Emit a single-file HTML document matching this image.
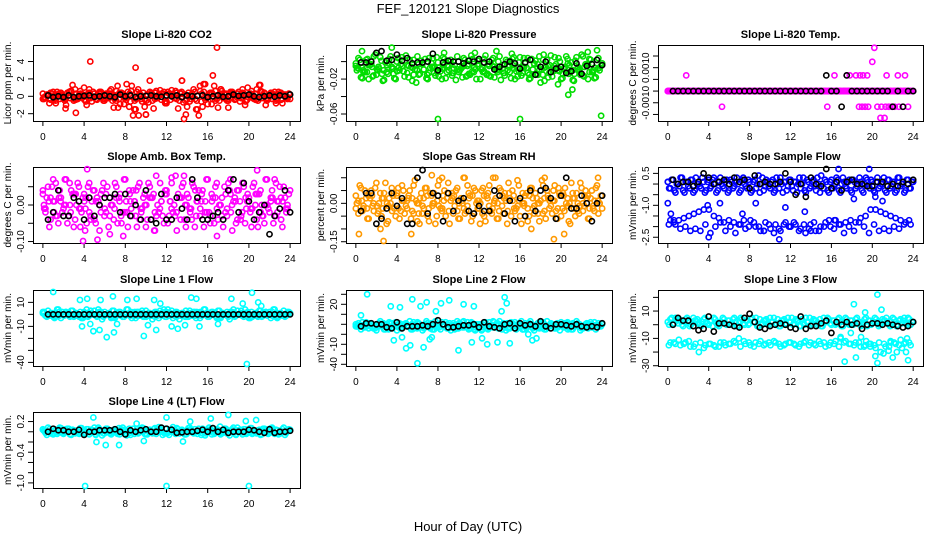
<!DOCTYPE html>
<html><head><meta charset="utf-8"><title>FEF_120121 Slope Diagnostics</title>
<style>
html,body{margin:0;padding:0;background:#fff;}
svg{display:block;font-family:"Liberation Sans",Arial,sans-serif;}
</style></head>
<body>
<svg id="chart" width="936" height="540" viewBox="0 0 936 540">
<text x="468" y="13" text-anchor="middle" font-size="13">FEF_120121  Slope Diagnostics</text>
<text x="468" y="531" text-anchor="middle" font-size="13">Hour of Day (UTC)</text>
</svg>
<script>
// ---------- data ----------
const xTicks = [0,4,8,12,16,20,24];
const titles = ["Slope Li-820 CO2","Slope Li-820 Pressure","Slope Li-820 Temp.","Slope Amb. Box Temp.","Slope Gas Stream RH","Slope Sample Flow","Slope Line 1 Flow","Slope Line 2 Flow","Slope Line 3 Flow","Slope Line 4 (LT) Flow"];
const yTitles = ["Licor ppm per min.","kPa per min.","degrees C per min.","degrees C per min.","percent per min.","mVmin per min.","mVmin per min.","mVmin per min.","mVmin per min.","mVmin per min."];
const colors = ["#ff0000","#00dd00","#ff00ff","#ff00ff","#ff9900","#0000ff","#00ffff","#00ffff","#00ffff","#00ffff"];
const yLims = [[-2.84,5.9],[-0.068,0.019],[-0.00128,0.00197],[-0.104,0.104],[-0.155,0.142],[-2.77,0.80],[-43,20.3],[-41.7,34.3],[-30.2,25.4],[-1.10,0.387]];
const yTickVals = [[-2,0,2,4],[-0.06,-0.04,-0.02,0],[-0.001,-0.0005,0,0.0005,0.001,0.0015],[-0.1,-0.05,0,0.05],[-0.15,-0.1,-0.05,0,0.05,0.1],[-2.5,-2,-1.5,-1,-0.5,0,0.5],[-40,-30,-20,-10,0,10],[-40,-30,-20,-10,0,10,20,30],[-30,-20,-10,0,10,20],[-1.0,-0.8,-0.6,-0.4,-0.2,0,0.2]];
const yTickLabels = [["-2","0","2","4"],["-0.06","","-0.02",""],["","-0.0010","","","0.0010",""],["-0.10","","0.00",""],["-0.15","","","0.00","",""],["-2.5","","","-1.0","","","0.5"],["-40","","","-10","","10"],["-40","","-10","","","","20",""],["-30","","-10","","10",""],["-1.0","","","-0.4","","","0.2"]];

const mainVals = [
[0.3,-0.2,0.1,-0.4,0.5,-0.8,0.2,0.4,-0.3,-1.0,0.1,0.6,-0.5,0.3,-0.2,0.2,1.0,-1.0,0.8,-0.6,0.3,-0.4,0.5,0.1,-0.3,0.2,0.6,-0.5,0.1,1.2,-0.9,0.3,-0.2,0.5,-0.6,-2.2,-1.5,0.8,-0.3,0.4,-2.1,-0.7,0.3,-1.4,0.6,0.2,-0.4,0.5,-0.8,0.3,0.7,-0.2,0.4,-0.5,1.8,0.2,-1.2,-0.6,0.3,0.5,-1.5,1.2,-1.2,1.4,-0.9,0.4,-0.3,0.6,-1.3,0.8,-0.2,0.3,-0.5,0.4,0.1,-0.3,0.5,-0.2,0.3,-0.4,0.2,0.6,-0.3,0.8,1.3,-0.2,0.4,-0.5,0.2,-0.3,0.5,-0.2,0.3,-0.8,0.2,-0.1,-0.3],
[-0.005,0.004,-0.018,-0.010,0.002,-0.020,-0.003,0.006,-0.015,-0.008,0.001,-0.021,-0.012,0.003,-0.006,-0.019,0.000,-0.010,0.005,-0.017,-0.004,0.002,-0.022,-0.009,0.006,-0.014,-0.002,0.003,-0.020,-0.007,0.004,-0.016,-0.001,-0.011,0.005,-0.019,-0.006,0.002,-0.013,-0.021,0.000,-0.008,0.004,-0.017,-0.003,0.007,-0.012,-0.020,0.001,-0.009,0.003,-0.015,-0.005,0.002,-0.018,-0.010,0.006,-0.004,-0.016,0.000,-0.012,0.003,-0.020,-0.007,0.005,-0.013,-0.002,0.004,-0.019,-0.009,0.001,-0.015,-0.024,0.002,-0.006,-0.018,0.007,-0.011,-0.003,0.004,-0.020,-0.008,0.006,-0.014,-0.001,-0.022,0.005,-0.010,0.008,-0.017,-0.004,0.003,-0.012,-0.019,0.002,-0.007,-0.002],
[0,0,0,0,0,0,0,0,0,0,0,0,0,0,0,0,0,0,0,0,0,0,0,0,0,0,0,0,0,0,0,0,0,0,0,0,0,0,0,0,0,0,0,0,0,0,0,0,0,0,0,0,0,0,0,0,0,0,0,0,0,0,0,0,0,0,0,0,0,0,0,0,0,0,0,0,0,0,0,0,0,0,0,0,0,0,0,0,0,0,0,0,0,0,0,0,0],
[0.03,-0.02,0.05,-0.04,0.01,0.06,-0.05,0.02,-0.01,0.07,-0.03,0.04,-0.06,0.00,0.05,-0.02,0.03,-0.05,0.06,0.01,-0.04,0.02,-0.07,0.04,-0.01,0.05,-0.03,0.00,0.06,-0.05,0.03,-0.02,0.07,-0.06,0.01,0.04,-0.03,0.05,-0.01,0.02,-0.06,0.06,-0.04,0.03,0.08,-0.02,0.01,-0.05,0.04,-0.03,0.06,0.00,-0.07,0.02,0.05,-0.04,0.03,-0.01,0.06,-0.06,0.01,-0.03,0.04,-0.02,0.07,-0.05,0.02,0.05,-0.04,0.00,-0.06,0.03,0.06,-0.02,0.01,-0.05,0.04,-0.03,0.05,-0.01,0.02,-0.06,0.06,-0.04,0.03,0.00,-0.05,0.07,-0.02,0.04,-0.03,0.01,0.05,-0.06,0.02,-0.01,0.04],
[0.03,-0.04,0.06,-0.01,0.02,-0.06,0.05,-0.03,0.08,0.00,-0.05,0.04,-0.08,0.02,0.06,-0.02,0.03,-0.06,0.07,-0.04,0.01,0.05,-0.03,0.09,-0.07,0.02,-0.01,0.06,-0.05,0.04,0.00,-0.08,0.07,-0.02,0.03,-0.05,0.08,0.01,-0.04,0.05,-0.06,0.02,0.10,-0.03,0.04,-0.07,0.06,0.00,-0.02,0.05,-0.05,0.03,0.07,-0.04,0.01,-0.06,0.06,-0.01,0.04,-0.08,0.02,0.05,-0.03,0.09,-0.05,0.00,0.03,-0.07,0.06,-0.02,0.04,-0.04,0.01,0.07,-0.06,0.02,-0.01,0.05,-0.03,0.06,-0.05,0.03,0.00,-0.07,0.08,-0.02,0.04,-0.04,0.06,-0.01,0.02,-0.06,0.05,-0.03,0.07,0.00,-0.02],
[0.1,-0.2,0.2,-0.4,0.0,0.3,-0.3,0.1,-0.1,0.2,-0.4,0.3,0.0,-0.2,0.1,-0.3,0.2,-0.1,0.3,-0.4,0.1,0.0,-0.2,0.2,-0.3,0.1,-0.1,0.3,-0.4,0.2,0.0,-0.2,0.1,-0.3,0.2,0.0,-0.4,0.3,-0.1,0.1,-0.2,0.2,-0.3,0.0,0.3,-0.4,0.1,-0.1,0.2,-0.3,0.1,0.0,-0.2,0.3,-0.4,0.1,-0.1,0.2,-0.3,0.0,0.4,-0.2,0.1,-0.4,0.2,-0.1,0.3,-0.3,0.0,0.1,-0.2,0.2,-0.4,0.1,-0.1,0.3,-0.3,0.0,0.2,-0.2,0.1,-0.4,0.3,-0.1,0.0,-0.3,0.2,-0.2,0.1,-0.4,0.3,-0.1,0.0,-0.3,0.2,-0.2,0.1],
[2,-1,3,0,-2,1,4,-3,0,2,-1,3,-2,1,0,-3,2,4,-1,0,3,-2,1,-4,2,0,-1,3,-3,1,2,-2,0,4,-1,1,-3,2,0,-2,3,1,-1,0,2,-3,1,4,-2,0,3,-1,2,-4,1,0,-2,3,-1,2,0,-3,1,4,-2,0,2,-1,3,-3,1,0,-2,2,4,-1,0,3,-2,1,-3,2,0,-1,3,-2,1,0,2,-1,4,-3,1,0,-2,2,1],
[-2,1,-5,-1,2,-4,0,-3,-6,1,-2,-5,0,2,-3,-1,-6,1,-4,0,-2,3,-5,-1,2,-3,-6,0,1,-4,-2,3,-1,-5,0,2,-3,-6,1,-2,-4,0,3,-1,-5,2,-3,0,-2,-6,1,-4,2,-1,-3,0,3,-5,-2,1,-4,-1,2,-3,0,-5,1,-2,3,-4,-1,0,-3,2,-5,-2,1,-1,-4,0,2,-3,1,-2,-5,0,3,-1,-4,-2,1,0,-3,2,-1,-2,0],
[2,4,0,5,1,3,-1,4,2,0,5,3,1,-1,4,2,0,3,5,1,-1,2,4,0,3,1,5,-1,2,4,0,3,1,5,2,-1,4,0,3,1,5,2,0,4,-1,3,1,5,2,0,4,3,-1,1,5,2,0,4,3,1,-1,5,2,4,0,3,1,5,-1,2,4,0,3,1,5,2,0,4,-1,3,1,5,2,0,4,3,1,-1,5,2,0,4,3,1,5,0,2],
[0.05,-0.02,0.08,0.01,-0.05,0.04,-0.01,0.07,-0.04,0.02,0.06,-0.06,0.03,0.00,-0.03,0.07,-0.02,0.05,-0.05,0.01,0.08,-0.01,0.04,-0.07,0.02,0.06,-0.03,0.00,0.05,-0.04,0.03,0.08,-0.02,0.01,-0.06,0.06,0.00,-0.03,0.04,0.07,-0.05,0.02,-0.01,0.05,-0.04,0.09,0.01,-0.02,0.06,-0.06,0.03,0.00,0.07,-0.03,0.04,-0.05,0.02,0.08,-0.01,0.05,-0.04,0.01,0.06,-0.07,0.03,0.00,0.07,-0.02,0.04,-0.05,0.02,0.06,-0.03,0.01,0.08,-0.06,0.03,-0.01,0.05,-0.04,0.02,0.07,0.00,-0.03,0.04,-0.05,0.06,0.01,-0.02,0.08,-0.04,0.03,0.00,0.05,-0.06,0.02,0.04]
];
const bandVals = [
[-0.2,0.4,-0.5,0.2,-0.3,0.6,-0.4,0.3,-0.6,0.1,-0.3,0.5,-0.2,0.3,-0.5,0.2,-0.4,0.6,-0.3,0.1,-0.5,0.4,-0.2,0.3,-0.6,0.2,-0.3,0.5,-0.4,0.1,-0.5,0.3,-0.2,0.4,-0.3,0.2,-0.5,0.3,-0.1,0.4,-0.4,0.2,-0.3,0.5,-0.2,0.3,-0.4,0.2,-0.3],
[-0.008,-0.012,-0.004,-0.016,-0.006,-0.010,-0.002,-0.014,-0.007,-0.011,-0.005,-0.015,-0.003,-0.009,-0.013,-0.006,-0.017,-0.004,-0.010,-0.008,-0.012,-0.005,-0.014,-0.007,-0.003,-0.011,-0.016,-0.006,-0.009,-0.013,-0.004,-0.008,-0.012,-0.006,-0.015,-0.003,-0.010,-0.007,-0.013,-0.005,-0.011,-0.008,-0.004,-0.014,-0.009,-0.006,-0.012,-0.007,-0.010],
[0,0,0,0,0,0,0,0,0,0,0,0,0,0,0,0,0,0,0,0,0,0,0,0,0,0,0,0,0,0,0,0,0,0,0,0,0,0,0,0,0,0,0,0,0,0,0,0,0],
[-0.01,0.02,-0.03,0.01,0.00,-0.02,0.03,-0.01,0.02,-0.04,0.01,0.03,-0.02,0.00,0.02,-0.03,0.01,-0.01,0.04,-0.02,0.00,0.02,-0.03,0.01,0.03,-0.01,-0.02,0.02,0.00,-0.04,0.01,0.03,-0.02,0.01,-0.01,0.02,-0.03,0.00,0.04,-0.02,0.01,-0.01,0.03,-0.03,0.00,0.02,-0.02,0.01,0.00],
[0.01,-0.02,0.03,0.00,-0.03,0.02,-0.01,0.04,-0.02,0.01,0.03,-0.04,0.00,0.02,-0.02,0.04,-0.01,0.01,-0.03,0.03,0.00,-0.02,0.02,-0.04,0.01,0.03,-0.01,0.00,-0.03,0.02,0.04,-0.02,0.01,-0.01,0.03,-0.04,0.00,0.02,-0.02,0.01,0.04,-0.03,0.00,0.02,-0.01,0.03,-0.02,0.01,0.00],
[-1.7,-1.9,-2.1,-2.0,-2.2,-2.1,-2.2,-1.9,-2.3,-2.0,-1.8,-2.2,-2.0,-2.3,-1.9,-2.1,-1.7,-2.0,-2.2,-1.8,-2.1,-1.9,-2.2,-1.8,-2.0,-1.9,-2.1,-2.3,-1.9,-2.2,-2.0,-1.8,-2.0,-1.7,-1.9,-1.8,-1.7,-1.8,-1.6,-1.5,-1.2,-1.2,-1.3,-1.4,-1.5,-1.6,-1.7,-1.8,-1.9],
[-1,1,-2,0,2,-1,1,-2,0,1,-1,2,0,-2,1,-1,0,2,-1,1,-2,0,1,-1,2,0,-2,1,-1,0,2,-1,1,0,-2,1,-1,2,0,-1,1,-2,0,1,-1,2,0,-1,1],
[-1,-3,0,-4,-2,1,-5,-1,-3,0,-2,-4,1,-3,-1,-5,0,-2,-4,-1,1,-3,-2,-5,0,-1,-3,2,-4,-2,0,-1,-3,-5,1,-2,-4,0,-1,-3,-2,1,-4,-1,0,-3,-2,-1,-2],
[-13,-14,-15,-13,-16,-14,-13,-15,-14,-16,-13,-15,-14,-13,-16,-14,-15,-13,-12,-14,-15,-13,-16,-14,-13,-15,-14,-12,-13,-15,-14,-16,-13,-12,-10,-12,-14,-13,-16,-15,-14,-17,-20,-16,-12,-14,-11,-13,-15],
[0.01,-0.03,0.03,-0.01,0.05,-0.04,0.02,0.00,-0.02,0.04,-0.05,0.01,0.03,-0.02,0.00,0.05,-0.03,0.02,-0.01,0.04,-0.04,0.01,0.03,0.00,-0.03,0.05,-0.01,0.02,-0.04,0.03,0.00,-0.02,0.04,-0.05,0.01,0.02,-0.03,0.05,0.00,-0.01,0.03,-0.04,0.02,0.01,-0.02,0.04,-0.03,0.00,0.02]
];
const outliers = [
[[4.6,4.0],[9.0,3.3],[16.5,2.4],[16.9,5.6],[3.2,-1.9],[13.7,-2.6],[9.3,-2.2],[10.0,-2.1],[13.5,1.8],[15.6,1.4],[21.1,1.3],[7.3,-1.3],[18.0,-1.3],[17.3,0.8],[2.2,-1.4]],
[[0.6,0.012],[3.5,0.016],[8.0,-0.066],[16.0,-0.067],[23.9,-0.062],[20.7,-0.038],[21.1,-0.032],[19.7,-0.026],[13.7,0.012],[11.6,0.010],[23.5,0.013],[8.6,0.010],[15.2,0.009],[18.3,0.008],[22.6,0.011]],
[[1.8,0.00067],[5.3,-0.00067],[15.6,-0.00067],[20.0,0.00125],[20.2,0.00185],[20.8,-0.00115],[21.2,-0.00115],[16.3,0.00067],[17.5,0.00067],[17.8,0.00067],[18.4,0.00067],[18.8,0.00067],[19.1,0.00067],[19.5,0.00067],[21.4,0.00067],[22.5,0.00067],[23.2,0.00067],[18.7,-0.00067],[19.0,-0.00067],[19.3,-0.00067],[19.6,-0.00067],[20.5,-0.00067],[20.9,-0.00067],[21.3,-0.00067],[21.6,-0.00067],[21.9,-0.00067],[22.2,-0.00067],[22.6,-0.00067],[23.0,-0.00067],[23.5,-0.00067],[16.8,0],[17.2,0],[17.6,0]],
[[3.9,-0.1],[4.1,-0.07],[5.3,-0.095],[4.3,0.098],[20.8,0.095],[1.0,0.07],[2.6,0.06],[7.8,-0.085],[13.7,0.08],[16.9,-0.085],[18.2,0.07],[12.5,0.075],[22.5,0.07],[6.5,-0.08],[10.8,-0.07]],
[[0.3,-0.12],[2.7,-0.15],[2.4,-0.1],[5.4,-0.12],[7.4,0.11],[8.4,0.1],[13.6,0.1],[18.4,0.1],[19.3,-0.14],[20.3,-0.12],[23.6,0.1],[12.1,-0.08],[10.6,0.1],[6.2,-0.08],[17.1,-0.1]],
[[0.0,-0.9],[0.3,-1.4],[0.6,-1.7],[3.9,-1.0],[4.0,-2.5],[5.1,-0.9],[8.6,-0.9],[10.9,-2.6],[9.4,-2.2],[11.5,-1.1],[13.4,-1.3],[14.0,-2.2],[16.7,1.2],[16.3,-1.7],[18.2,-0.7],[19.7,0.8],[20.3,-0.6],[21.0,-0.8],[12.0,-2.0],[7.3,-1.4]],
[[1.0,19],[3.6,12],[3.8,-10],[4.3,13],[4.6,-8],[4.9,-14],[5.5,-13],[5.6,12],[6.2,-19],[6.8,15],[6.9,-15],[7.2,-8],[8.2,12],[9.1,13],[9.8,-18],[10.2,-9],[11.0,-13],[11.4,9],[12.5,-10],[13.1,-12],[14.4,14],[14.9,13],[15.2,-10],[17.0,-8],[18.3,13],[19.8,-42],[20.3,18],[20.9,10],[21.2,7],[19.4,9],[10.8,12],[13.8,-9]],
[[1.1,30],[0.5,9],[3.4,18],[3.7,-16],[4.3,17],[4.5,-13],[4.9,-24],[5.3,-21],[5.5,25],[6.0,-39],[6.3,18],[6.6,-23],[6.9,22],[7.2,-15],[7.8,13],[8.3,21],[9.1,24],[10.0,-26],[10.5,20],[11.3,-18],[11.5,18],[12.3,-14],[12.8,-20],[13.8,-18],[14.2,13],[14.5,27],[14.7,21],[15.0,-19],[16.8,-10],[17.2,-16],[17.6,-14],[7.4,-13]],
[[17.3,-27],[18.2,15],[18.4,-24],[19.3,9],[19.8,-16],[20.3,-23],[20.5,-28],[20.5,22],[20.9,11],[21.1,-21],[21.6,-19],[22.0,-24],[22.4,-20],[22.9,-17],[23.3,-20],[23.5,-26],[23.4,-10],[17.9,-6],[18.9,-9],[16.9,-9],[19.4,-12],[21.8,-13]],
[[4.1,-1.1],[12.0,-1.1],[20.0,-1.1],[4.9,0.28],[6.1,-0.26],[7.4,-0.26],[9.1,0.16],[9.8,-0.18],[12.0,0.28],[13.6,-0.19],[14.3,0.2],[16.3,0.26],[18.0,0.33],[19.7,0.21],[20.7,0.23],[5.2,-0.2],[17.2,0.1]]
];
const blackVals = [
[0.1,-0.1,0.0,-0.1,0.1,-0.1,0.0,0.05,0.1,-0.05,0.0,0.1,0.0,-0.1,0.2,0.0,0.1,-0.1,0.0,0.05,0.1,0.0,-0.05,0.1,0.0,0.1,-0.1,0.1,0.0,0.05,0.1,-0.1,0.0,0.1,-0.05,0.0,0.2,0.05,0.1,0.2,0.0,-0.1,0.0,0.1,-0.05,0.1,0.0,0.2],
[-0.001,-0.001,0.0,0.010,0.012,0.001,0.002,0.008,0.001,0.004,-0.002,-0.001,-0.001,0.000,0.009,-0.010,-0.001,0.001,0.000,0.000,-0.002,0.001,0.000,0.003,-0.001,0.000,-0.009,-0.006,-0.003,0.000,-0.002,-0.008,-0.001,0.002,-0.015,-0.006,0.000,-0.012,-0.008,-0.006,-0.013,-0.011,-0.002,-0.014,-0.005,-0.003,0.002,-0.004],
[0,0,0,0,0,0,0,0,0,0,0,0,0,0,0,0,0,0,0,0,0,0,0,0,0,0,0,0,0,0,0.00067,0,0,-0.00067,0.00067,0,0,0,0,0,0,0,0,-0.00067,0,-0.00067,0,0],
[-0.04,-0.02,0.04,-0.03,-0.03,0.02,0.01,-0.04,0.02,-0.03,0.00,0.02,0.02,0.03,-0.02,0.03,-0.03,0.00,-0.04,0.04,-0.04,-0.05,0.03,-0.04,-0.04,0.02,-0.01,-0.04,0.07,0.02,-0.04,-0.04,-0.03,-0.02,-0.04,0.04,0.07,-0.02,0.06,0.01,-0.04,-0.02,0.00,-0.08,-0.03,-0.01,0.04,-0.02],
[-0.03,0.04,0.04,-0.08,-0.06,-0.02,0.04,-0.01,0.02,-0.08,-0.08,0.10,0.13,-0.04,0.04,0.03,-0.07,0.04,-0.03,0.01,0.02,-0.03,-0.04,-0.01,-0.03,-0.03,0.05,0.03,-0.04,0.01,-0.07,0.02,-0.05,0.05,-0.03,0.05,0.06,0.02,-0.06,0.03,0.10,-0.02,-0.02,0.03,0.00,-0.07,0.00,0.03],
[0.2,0.0,0.1,0.1,-0.1,0.1,0.5,0.3,0.0,0.1,0.2,0.0,0.3,0.1,0.2,-0.2,0.4,0.0,0.1,0.0,0.0,0.1,0.5,0.1,-0.5,0.0,-0.6,0.3,0.0,-0.1,0.8,-0.2,0.1,-0.3,0.1,0.2,0.0,0.0,-0.1,-0.1,0.1,0.1,-0.1,0.0,-0.1,0.1,0.0,0.2],
[0,0,0,0,0,0,0,0,0,0,0,0,0,0,0,0,0,0,0,0,0,0,0,0,0,0,0,0,0,0,0,0,0,0,0,0,0,0,0,0,0,0,0,0,0,0,0,0],
[-2,1,1,0,0,-3,-4,2,-4,-2,-2,-2,-1,-2,0,4,0,-3,-3,-2,-1,-1,0,-3,2,-2,-3,-4,0,1,-4,1,-1,0,-2,3,-2,-4,0,0,-1,-2,0,-2,-3,-2,-3,1],
[0,5,3,3,-1,-4,-3,6,-5,1,1,0,-1,-2,5,8,2,-2,-3,-1,0,1,0,-2,-3,6,-3,-1,-1,1,3,-6,2,0,2,0,1,-3,0,1,1,0,1,0,-1,-2,-1,2],
[0.0,0.06,0.03,0.03,0.0,0.0,0.04,-0.06,0.0,0.0,0.03,0.03,0.03,0.05,0.0,-0.05,0.03,0.0,0.03,0.05,0.0,0.0,0.08,0.06,0.04,-0.02,-0.01,0.0,0.0,0.02,0.04,0.0,0.07,0.0,0.04,-0.02,0.0,0.0,0.0,0.04,0.03,0.0,-0.02,0.05,-0.02,0.0,0.0,0.02]
];

// ---------- layout ----------
const cols = [{l:33,r:300},{l:346,r:612},{l:658,r:923}];
const rowTops = [45,167,290,412];
const boxH = 76;
const NS = "http://www.w3.org/2000/svg";
const svg = document.getElementById('chart');
function mk(tag, attrs, parent){
  const e = document.createElementNS(NS, tag);
  for (const k in attrs) e.setAttribute(k, attrs[k]);
  (parent||svg).appendChild(e);
  return e;
}

titles.forEach((title, p) => {
  const c = cols[p % 3], top = rowTops[Math.floor(p / 3)], bot = top + boxH;
  const xr = 24 * 0.04;
  const xs = h => c.l + (h + xr) / (24 + 2 * xr) * (c.r - c.l);
  const [y0, y1] = yLims[p];
  const ys = v => bot - (v - y0) / (y1 - y0) * boxH;
  const g = mk('g', {});
  
  

  const t = mk('text', {x:(c.l + c.r) / 2, y:top - 7, 'text-anchor':'middle', 'font-size':11, 'font-weight':'bold'}, g);
  t.textContent = title;
  
  

  const yt = mk('text', {x:0, y:0, 'text-anchor':'middle', 'font-size':10, transform:`translate(${c.l - 22},${top + boxH / 2}) rotate(-90)`}, g);
  yt.textContent = yTitles[p];
  
  

  const xa = mk('g', {stroke:'#000', 'stroke-width':1}, g);
  
  
  mk('line', {x1:xs(0), x2:xs(24), y1:bot + 0.5, y2:bot + 0.5}, xa);
  xTicks.forEach(h => {
    mk('line', {x1:xs(h), x2:xs(h), y1:bot, y2:bot + 5}, xa);
    const tl = mk('text', {x:xs(h), y:bot + 19, 'text-anchor':'middle', 'font-size':10, stroke:'none', fill:'#000'}, g);
    tl.textContent = h;
    
    
  });

  const ya = mk('g', {stroke:'#000', 'stroke-width':1}, g);
  
  
  yTickVals[p].forEach((v, i) => {
    const y = ys(v);
    mk('line', {x1:c.l - 5, x2:c.l, y1:y, y2:y}, ya);
    if (yTickLabels[p][i]) {
      const tl = mk('text', {x:0, y:0, 'text-anchor':'middle', 'font-size':10, transform:`translate(${c.l - 9},${y}) rotate(-90)`}, g);
      tl.textContent = yTickLabels[p][i];
      
      
    }
  });

  const bx = mk('rect', {x:c.l + 0.5, y:top + 0.5, width:c.r - c.l, height:boxH, fill:'none', stroke:'#000', 'stroke-width':1}, g);
  
  

  const pts = mk('g', {fill:'none', 'stroke-width':1.6}, g);
  
  
  function dot(h, v, col, name){
    const y = Math.max(top + 2, Math.min(bot - 2, ys(v)));
    const ci = mk('circle', {cx:xs(h), cy:y, r:2.6, stroke:col}, pts);
    
    
  }
  const m = mainVals[p];
  m.forEach((v, i) => dot(i * 24 / (m.length - 1), v, colors[p], 'main-point'));
  // second pass (reversed order) to reproduce the reference's denser band
  m.forEach((v, i) => dot(Math.max(0, 24 - i * 24 / (m.length - 1) - 0.12), v, colors[p], 'main-point'));
  const b = bandVals[p];
  b.forEach((v, i) => dot(0.25 + i * 23.5 / (b.length - 1), v, colors[p], 'band-point'));
  b.forEach((v, i) => dot(23.6 - i * 23.5 / (b.length - 1), v, colors[p], 'band-point'));
  outliers[p].forEach(o => dot(o[0], o[1], colors[p], 'outlier-point'));
  blackVals[p].forEach((v, i) => dot(0.5 + i * 0.5, v, '#000', 'reference-point'));
});
</script>
</body></html>
